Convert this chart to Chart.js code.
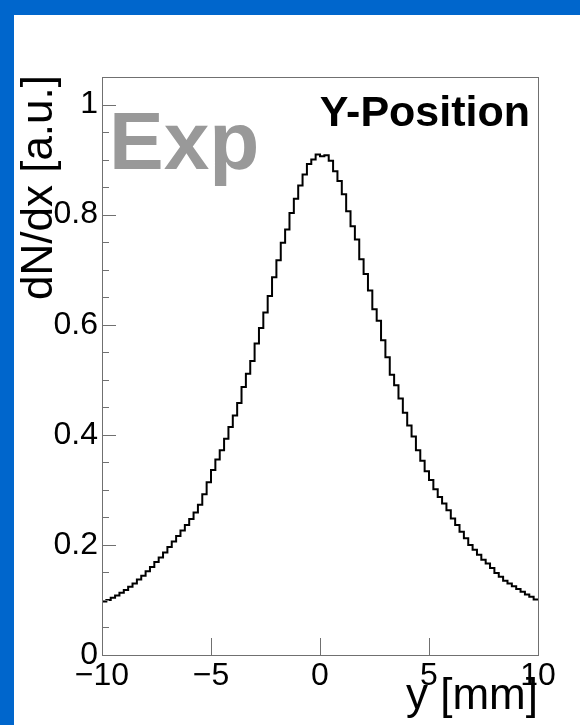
<!DOCTYPE html>
<html>
<head>
<meta charset="utf-8">
<script src="https://cdn.jsdelivr.net/npm/chart.js@4/dist/chart.umd.min.js"></script>
<style>
  html, body { margin: 0; padding: 0; background: #ffffff; }
  canvas { display: block; }
</style>
</head>
<body>
<canvas id="c" width="580" height="725"></canvas>
<script>
// Histogram binning: 100 bins from -10 to 10 mm
const binLow = -10;
const binHigh = 10;
const nBins = 100;

// Normalised bin contents, left to right
const counts = [
  0.097, 0.100, 0.104, 0.108, 0.113, 0.118, 0.124, 0.130, 0.137, 0.144,
  0.152, 0.160, 0.169, 0.177, 0.186, 0.196, 0.206, 0.216, 0.226, 0.236,
  0.247, 0.259, 0.273, 0.292, 0.314, 0.336, 0.355, 0.372, 0.393, 0.414,
  0.435, 0.458, 0.487, 0.511, 0.534, 0.566, 0.594, 0.622, 0.652, 0.686,
  0.717, 0.749, 0.773, 0.803, 0.829, 0.853, 0.873, 0.892, 0.900, 0.909,
  0.906, 0.908, 0.898, 0.879, 0.861, 0.837, 0.806, 0.779, 0.755, 0.719,
  0.692, 0.662, 0.628, 0.607, 0.572, 0.541, 0.509, 0.490, 0.466, 0.440,
  0.417, 0.397, 0.372, 0.353, 0.334, 0.318, 0.301, 0.287, 0.275, 0.263,
  0.248, 0.236, 0.224, 0.212, 0.200, 0.191, 0.182, 0.173, 0.166, 0.158,
  0.149, 0.142, 0.135, 0.130, 0.125, 0.120, 0.115, 0.110, 0.106, 0.101
];

// Axis ticks
const xTicks = [-10, -5, 0, 5, 10];
const yTicks = [0, 0.2, 0.4, 0.6, 0.8, 1.0];
const yMinorStep = 0.05;
const yMax = 1.05;

// Step outline: one point per lower bin edge, plus the upper edge of the last bin
const binWidth = (binHigh - binLow) / nBins;
const outline = counts.map((v, i) => ({ x: binLow + i * binWidth, y: v }));
outline.push({ x: binHigh, y: counts[counts.length - 1] });

const FONT = "'Liberation Sans', Arial, Helvetica, sans-serif";
const FRAME = '#707070';

const decorPlugin = {
  id: 'decor',
  beforeDraw(chart) {
    const ctx = chart.ctx;
    ctx.save();
    ctx.fillStyle = '#0066cc';
    ctx.fillRect(0, 0, chart.width, chart.height);
    ctx.fillStyle = '#ffffff';
    ctx.fillRect(14, 15, chart.width - 14, chart.height - 15);
    ctx.restore();
  },
  afterDraw(chart) {
    const ctx = chart.ctx;
    const a = chart.chartArea;
    const xs = chart.scales.x;
    const ys = chart.scales.y;
    ctx.save();

    // frame
    ctx.strokeStyle = FRAME;
    ctx.lineWidth = 1;
    ctx.strokeRect(Math.round(a.left) + 0.5, Math.round(a.top) + 0.5,
                   Math.round(a.right - a.left), Math.round(a.bottom - a.top));

    // ticks drawn inward from the axes
    ctx.beginPath();
    xTicks.forEach(v => {
      const px = Math.round(xs.getPixelForValue(v)) + 0.5;
      ctx.moveTo(px, a.bottom);
      ctx.lineTo(px, a.bottom - 17);
    });
    for (let k = 0; k * yMinorStep <= 1.0 + 1e-9; k++) {
      const v = k * yMinorStep;
      const major = k % 4 === 0;
      const py = Math.round(ys.getPixelForValue(v)) + 0.5;
      ctx.moveTo(a.left, py);
      ctx.lineTo(a.left + (major ? 14 : 7), py);
    }
    ctx.stroke();

    // axis titles
    ctx.fillStyle = '#000000';
    ctx.font = '44px ' + FONT;
    ctx.textAlign = 'right';
    ctx.textBaseline = 'alphabetic';
    ctx.fillText('y [mm]', a.right, 709);

    ctx.save();
    ctx.translate(52, a.top - 2);
    ctx.rotate(-Math.PI / 2);
    ctx.textAlign = 'right';
    ctx.fillText('dN/dx [a.u.]', 0, 0);
    ctx.restore();

    // labels inside the frame
    ctx.fillStyle = '#999999';
    ctx.font = 'bold 82px ' + FONT;
    ctx.textAlign = 'left';
    ctx.fillText('Exp', 109, 169);

    ctx.fillStyle = '#000000';
    ctx.font = 'bold 43px ' + FONT;
    ctx.textAlign = 'right';
    ctx.fillText('Y-Position', 530, 126);

    ctx.restore();
  }
};

new Chart(document.getElementById('c'), {
  type: 'line',
  data: {
    datasets: [{
      data: outline,
      stepped: 'before',
      borderColor: '#000000',
      borderWidth: 2,
      pointRadius: 0,
      fill: false,
      tension: 0
    }]
  },
  options: {
    responsive: false,
    animation: false,
    devicePixelRatio: 1,
    layout: { padding: { top: 77, right: 42, left: 0, bottom: 0 } },
    plugins: { legend: { display: false }, tooltip: { enabled: false } },
    scales: {
      x: {
        type: 'linear',
        min: binLow,
        max: binHigh,
        afterBuildTicks: s => { s.ticks = xTicks.map(v => ({ value: v })); },
        afterFit: s => { s.height = 70; },
        grid: { display: false, drawTicks: false },
        border: { display: false },
        ticks: {
          autoSkip: false,
          maxRotation: 0,
          padding: 2,
          color: '#000000',
          font: { family: FONT, size: 32 },
          callback: v => (v < 0 ? '\u2212' + Math.abs(v) : String(v))
        }
      },
      y: {
        type: 'linear',
        min: 0,
        max: yMax,
        afterBuildTicks: s => { s.ticks = yTicks.map(v => ({ value: v })); },
        afterFit: s => { s.width = 102; },
        grid: { display: false, drawTicks: false },
        border: { display: false },
        ticks: {
          padding: 4,
          color: '#000000',
          font: { family: FONT, size: 32 },
          callback: v => (v === 0 ? '0' : v === 1 ? '1' : v.toFixed(1))
        }
      }
    }
  },
  plugins: [decorPlugin]
});
</script>
</body>
</html>
